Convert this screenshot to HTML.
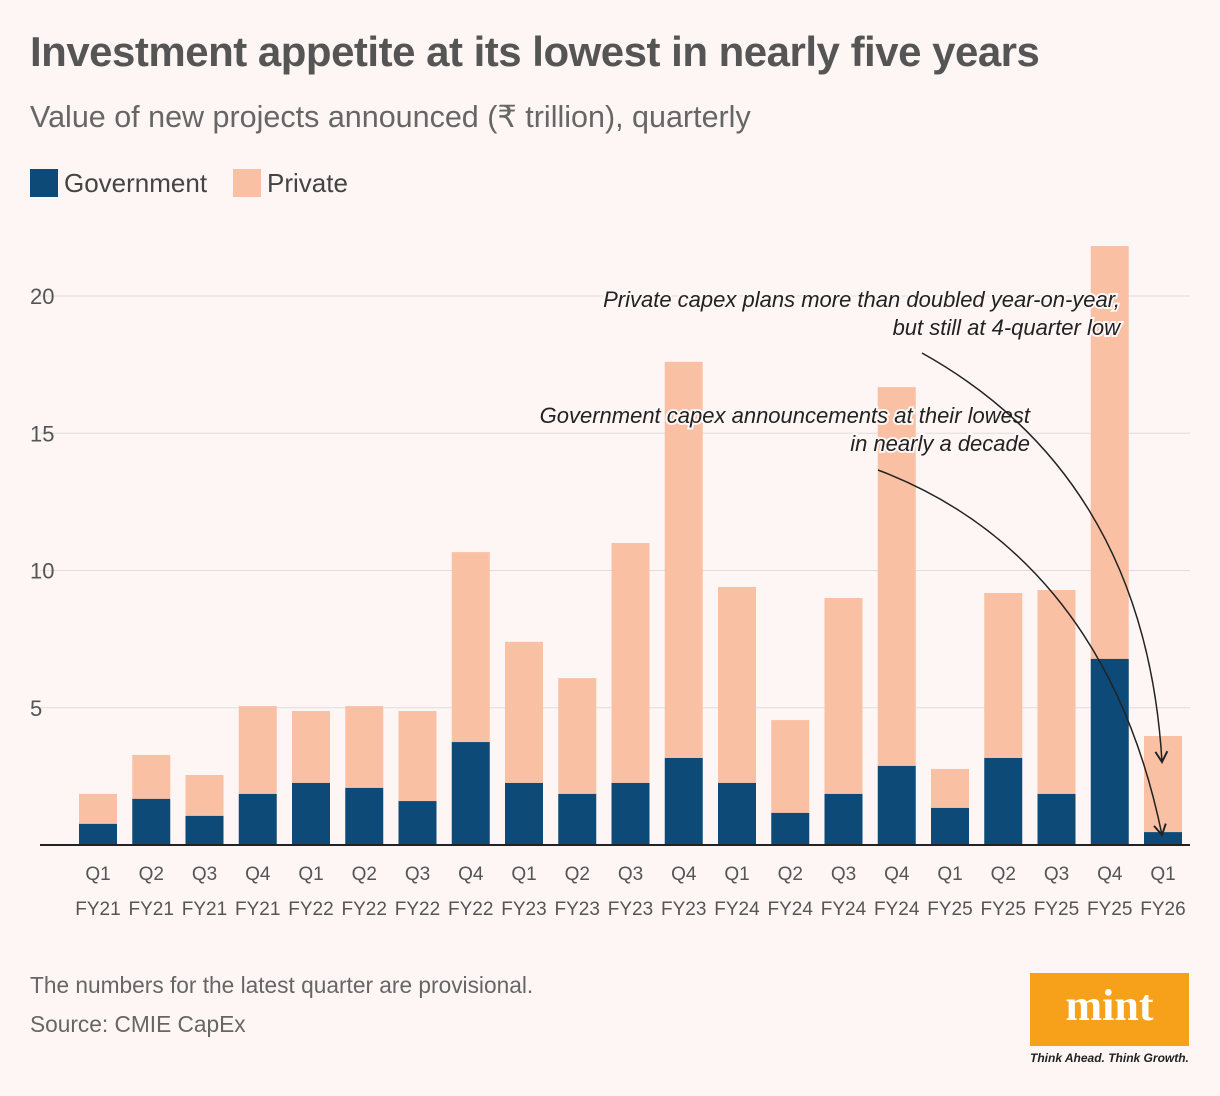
<!DOCTYPE html>
<html><head><meta charset="utf-8"><style>
body{margin:0;background:#fdf6f5;font-family:"Liberation Sans","DejaVu Sans",sans-serif;}
#wrap{position:relative;width:1220px;height:1096px;overflow:hidden;background:#fdf6f5}
.t{position:absolute;white-space:nowrap}
</style></head><body>
<div id="wrap">
<div class="t" style="left:30px;top:28px;font-size:42px;font-weight:bold;color:#555;letter-spacing:-0.5px">Investment appetite at its lowest in nearly five years</div>
<div class="t" style="left:30px;top:100px;font-size:30.5px;color:#666">Value of new projects announced (₹ trillion), quarterly</div>
<div class="t" style="left:30px;top:168px;font-size:26px;color:#444"><span style="display:inline-block;width:28px;height:28px;background:#0d4a77;vertical-align:-5px;margin-right:6px"></span>Government</div>
<div class="t" style="left:233px;top:168px;font-size:26px;color:#444"><span style="display:inline-block;width:28px;height:28px;background:#f9c0a3;vertical-align:-5px;margin-right:6px"></span>Private</div>
<svg id="chart" width="1220" height="1096" style="position:absolute;left:0;top:0"></svg>
<div class="t" style="left:30px;top:972px;font-size:22.7px;color:#666">The numbers for the latest quarter are provisional.</div>
<div class="t" style="left:30px;top:1011px;font-size:22.7px;color:#666">Source: CMIE CapEx</div>
<div style="position:absolute;left:1030px;top:973px;width:159px;height:73px;background:#f7a11a;color:#fff;font-family:'Liberation Serif',serif;font-weight:bold;font-size:44px;text-align:center;line-height:66px">mint</div>
<div class="t" style="left:1030px;top:1051px;font-size:12px;font-style:italic;font-weight:bold;color:#222">Think Ahead. Think Growth.</div>
</div>
<script>
const categories=["Q1|FY21","Q2|FY21","Q3|FY21","Q4|FY21","Q1|FY22","Q2|FY22","Q3|FY22","Q4|FY22","Q1|FY23","Q2|FY23","Q3|FY23","Q4|FY23","Q1|FY24","Q2|FY24","Q3|FY24","Q4|FY24","Q1|FY25","Q2|FY25","Q3|FY25","Q4|FY25","Q1|FY26"];
const government=[0.77,1.68,1.06,1.86,2.26,2.08,1.6,3.75,2.26,1.86,2.26,3.17,2.26,1.17,1.86,2.88,1.35,3.17,1.86,6.78,0.47];
const privateVals=[1.09,1.6,1.49,3.2,2.62,2.98,3.28,6.92,5.14,4.22,8.74,14.43,7.14,3.38,7.14,13.8,1.42,6.01,7.43,15.04,3.5];
const yTicks=[5,10,15,20];
const NS="http://www.w3.org/2000/svg",svg=document.getElementById('chart');
const x0=98,step=53.25,bw=38,y0=845,ppu=27.45;
const X=i=>x0+i*step, Y=v=>y0-v*ppu;
function el(t,a){const e=document.createElementNS(NS,t);for(const k in a)e.setAttribute(k,a[k]);svg.appendChild(e);return e;}
yTicks.forEach(v=>{
 const g=el('line',{x1:40,x2:1190,y1:Y(v),y2:Y(v),stroke:'#ddd','stroke-width':1});
 
 
 const t=el('text',{x:30,y:Y(v)+8,'font-size':22,fill:'#555'});t.textContent=v;
 
 
});
categories.forEach((c,i)=>{
 const g=government[i],p=privateVals[i];
 const r1=el('rect',{x:X(i)-bw/2,y:Y(g+p),width:bw,height:p*ppu,fill:'#f9c0a3'});
 
 
 const r2=el('rect',{x:X(i)-bw/2,y:Y(g),width:bw,height:g*ppu,fill:'#0d4a77'});
 
 
 const [q,fy]=c.split('|');
 [[q,880],[fy,915]].forEach(([s,yy])=>{const t=el('text',{x:X(i),y:yy,'text-anchor':'middle','font-size':19,fill:'#555'});t.textContent=s;
 
 });
});
const ax=el('line',{x1:40,x2:1190,y1:y0,y2:y0,stroke:'#222','stroke-width':2});


function note(lines,xr,y,name){lines.forEach((s,k)=>{const t=el('text',{x:xr,y:y+k*28,'text-anchor':'end','font-size':22,'font-style':'italic',fill:'#222',stroke:'#fdf6f5','stroke-width':4,'paint-order':'stroke'});t.textContent=s;
 
 });}
note(["Private capex plans more than doubled year-on-year,","but still at 4-quarter low"],1120,307,'annotation-private');
note(["Government capex announcements at their lowest","in nearly a decade"],1030,423,'annotation-government');
el('defs',{}).innerHTML='<marker id="ah" markerWidth="10" markerHeight="10" refX="8" refY="5" orient="auto"><path d="M1,1 L8,5 L1,9" fill="none" stroke="#222" stroke-width="1.3"/></marker>';
const a1=el('path',{d:'M922,353 C1060,430 1150,560 1162,762',fill:'none',stroke:'#222','stroke-width':1.5,'marker-end':'url(#ah)'});


const a2=el('path',{d:'M878,470 C1010,520 1120,630 1162,835',fill:'none',stroke:'#222','stroke-width':1.5,'marker-end':'url(#ah)'});


</script>
</body></html>
